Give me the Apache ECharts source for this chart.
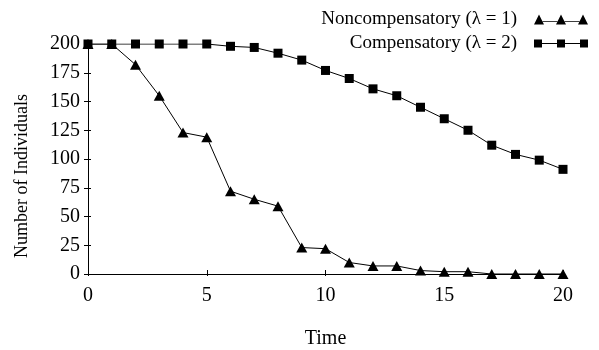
<!DOCTYPE html>
<html><head><meta charset="utf-8">
<script src="https://cdn.jsdelivr.net/npm/echarts@6/dist/echarts.min.js"></script>
<style>html,body{margin:0;padding:0;background:#fff}#c{width:599px;height:350px}</style>
</head><body><div id="c"></div>
<script>
const time = [0,1,2,3,4,5,6,7,8,9,10,11,12,13,14,15,16,17,18,19,20];
const noncompensatory = [200,200,182,155,123,119,72,65,59,23,22,10,7,7,3,2,2,0,0,0,0];
const compensatory = [200,200,200,200,200,200,198,197,192,186,177,170,161,155,145,135,125,112,104,99,91];
const xTicks = [0,5,10,15,20];
const yTicks = [0,25,50,75,100,125,150,175,200];
const seriesNames = ['Noncompensatory (\u03bb = 1)', 'Compensatory (\u03bb = 2)'];

const FONT = '"Liberation Serif", "Times New Roman", serif';
const triIcon = 'path://M0,10L5,0L10,10Z M22,10L27,0L32,10Z M44,10L49,0L54,10Z M8.7,6.5L23.3,6.5L23.3,7.3L8.7,7.3Z M30.7,6.5L45.3,6.5L45.3,7.3L30.7,7.3Z';
const sqIcon = 'path://M0,0L8,0L8,8L0,8Z M23,0L31,0L31,8L23,8Z M46,0L54,0L54,8L46,8Z M8,3.6L23,3.6L23,4.4L8,4.4Z M31,3.6L46,3.6L46,4.4L31,4.4Z';

const chart = echarts.init(document.getElementById('c'), null, {renderer:'canvas'});
const axisCommon = {
  min: 0,
  axisLine: {lineStyle:{color:'#000', width:1}},
  splitLine: {show:false}
};
chart.setOption({
  animation: false,
  backgroundColor: '#fff',
  textStyle: {fontFamily: FONT, color:'#000'},
  grid: {left: 88, right: 36, top: 44, bottom: 76, outerBoundsMode: 'none', containLabel: false},
  legend: [
    {data:[{name: seriesNames[0], icon: triIcon}], right: 6, top: 5, orient:'vertical', align:'right',
     itemWidth: 54, itemHeight: 10,
     textStyle:{fontFamily: FONT, fontSize: 19, color:'#000', padding:[0,12,0,0]}},
    {data:[{name: seriesNames[1], icon: sqIcon}], right: 6, top: 29, orient:'vertical', align:'right',
     itemWidth: 54, itemHeight: 8,
     textStyle:{fontFamily: FONT, fontSize: 19, color:'#000', padding:[0,12,0,0]}}
  ],
  xAxis: [
    Object.assign({}, axisCommon, {type:'value', max: 20, interval: 5,
      name: 'Time', nameLocation:'middle', nameGap: 55,
      nameTextStyle:{fontFamily: FONT, fontSize: 20, color:'#000'},
      axisTick:{show:true, inside:true, length:4, lineStyle:{color:'#000'}},
      axisLabel:{fontFamily: FONT, fontSize: 20, color:'#000', margin: 12,
        formatter: v => xTicks.includes(v) ? String(v) : ''}}),
    Object.assign({}, axisCommon, {type:'value', max: 20, interval: 5, position:'bottom',
      axisLine:{show:false}, axisLabel:{show:false},
      axisTick:{show:true, inside:false, length:2, lineStyle:{color:'#000'}}})
  ],
  yAxis: [
    Object.assign({}, axisCommon, {type:'value', max: 200, interval: 25,
      name: 'Number of Individuals', nameLocation:'middle', nameGap: 57,
      nameTextStyle:{fontFamily: FONT, fontSize: 18, color:'#000', padding:[0,34,0,0]},
      axisTick:{show:true, inside:false, length:4, lineStyle:{color:'#000'}},
      axisLabel:{fontFamily: FONT, fontSize: 20, color:'#000', margin: 8,
        formatter: v => yTicks.includes(v) ? String(v) : ''}}),
    Object.assign({}, axisCommon, {type:'value', max: 200, interval: 25, position:'left',
      axisLine:{show:false}, axisLabel:{show:false},
      axisTick:{show:true, inside:true, length:3, lineStyle:{color:'#000'}}})
  ],
  series: [
    {name: seriesNames[0], type:'line', data: time.map((t,i)=>[t, noncompensatory[i]]),
     symbol:'triangle', symbolSize:[11,10], color:'#000',
     lineStyle:{color:'#000', width:1}, itemStyle:{color:'#000'}, z: 2},
    {name: seriesNames[1], type:'line', data: time.map((t,i)=>[t, compensatory[i]]),
     symbol:'rect', symbolSize:9, color:'#000',
     lineStyle:{color:'#000', width:1}, itemStyle:{color:'#000'}, z: 3}
  ]
});
</script></body></html>
